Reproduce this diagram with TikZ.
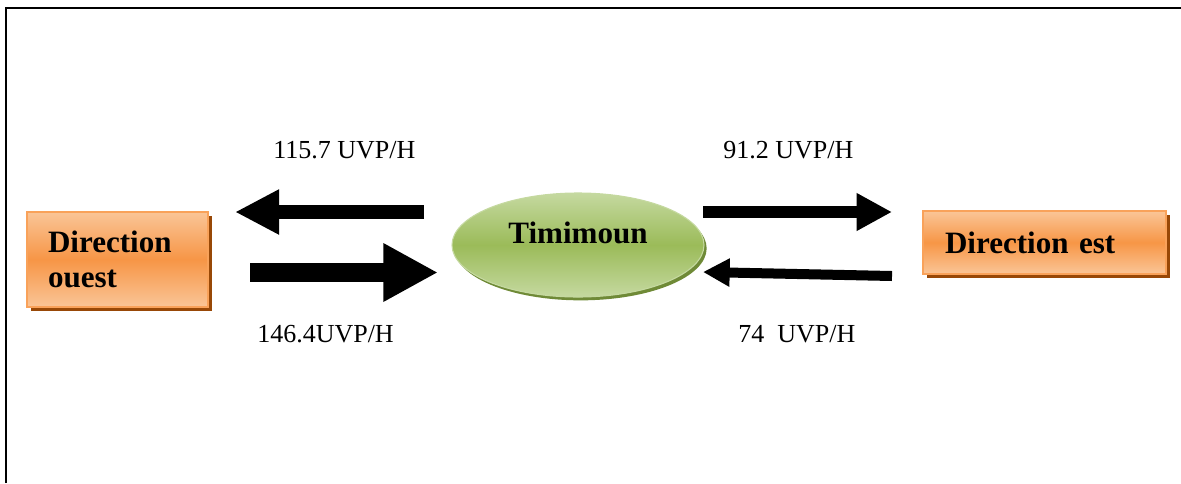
\documentclass[tikz,border=0pt]{standalone}
\usepackage{fontspec}
\setmainfont{Liberation Serif}
\usetikzlibrary{arrows.meta,shapes.geometric,shadows}
\definecolor{orMid}{HTML}{F79646}
\definecolor{orLight}{HTML}{FAC597}
\definecolor{orBorder}{HTML}{F9A25A}
\definecolor{orShadow}{HTML}{984807}
\definecolor{grMid}{HTML}{9BBB59}
\definecolor{grLight}{HTML}{C5D9A0}
\definecolor{grShadow}{HTML}{6F8A37}
\tikzset{
  dirbox/.style={rectangle, draw=orBorder, line width=1.5pt, top color=orLight, bottom color=orLight, middle color=orMid,
    drop shadow={shadow xshift=3pt, shadow yshift=-3pt, fill=orShadow, opacity=1},
    font=\fontsize{23.3}{26.5}\selectfont\bfseries, align=left, inner ysep=0pt},
  cityell/.style={ellipse, draw=grLight, line width=0.8pt, top color=grLight, bottom color=grLight, middle color=grMid,
    drop shadow={shadow xshift=2pt, shadow yshift=-2.5pt, fill=grShadow, opacity=1},
    font=\fontsize{23.3}{26.5}\selectfont\bfseries, inner sep=0pt},
  flowlbl/.style={font=\fontsize{19.5}{22}\selectfont, anchor=base west, inner sep=0pt},
  blockarrow/.style n args={3}{line width=#1, -{Triangle[length=#2, width=#3]}}
}
\begin{document}
\begin{tikzpicture}[x=0.75pt,y=-0.75pt]
\useasboundingbox (0,0) rectangle (1181,483);
% frame
\draw[line width=1.8pt] (6,483) -- (6,8) -- (1181,8);
% nodes
\node[dirbox, minimum width=135.75pt, minimum height=71.25pt, text width=104.25pt, inner xsep=15.75pt] (ouest) at (117.5,259.5) {Direction\\ouest};
\node[dirbox, minimum width=182.25pt, minimum height=47.25pt, text width=149.25pt, inner xsep=16.5pt] (est) at (1044.5,242.5) {Direction est};
\node[cityell, minimum width=189pt, minimum height=78pt] (tim) at (578,245) {\raisebox{1.5pt}[0pt][0pt]{Timimoun}};
% arrow end points
\coordinate (a1s) at (424,212);
\coordinate (a1e) at (235,212);
\coordinate (a2s) at (250,272.5);
\coordinate (a2e) at (438,272.5);
\coordinate (a3s) at (703,212);
\coordinate (a3e) at (892,212);
\coordinate (a4s) at (892,276);
\coordinate (a4e) at (703,272);
\draw[blockarrow={10.5pt}{33pt}{31.5pt}] (a1s) -- (a1e);
\draw[blockarrow={14.25pt}{41pt}{41pt}] (a2s) -- (a2e);
\draw[blockarrow={9pt}{26.5pt}{26.5pt}] (a3s) -- (a3e);
\draw[blockarrow={7.5pt}{20pt}{20pt}] (a4s) -- (a4e);
% labels
\node[flowlbl] (l1) at (273,158) {115.7 UVP/H};
\node[flowlbl] (l2) at (723,158) {91.2 UVP/H};
\node[flowlbl] (l3) at (257,342) {146.4UVP/H};
\node[flowlbl] (l4) at (738,342) {74\ \ UVP/H};
\end{tikzpicture}
\end{document}
